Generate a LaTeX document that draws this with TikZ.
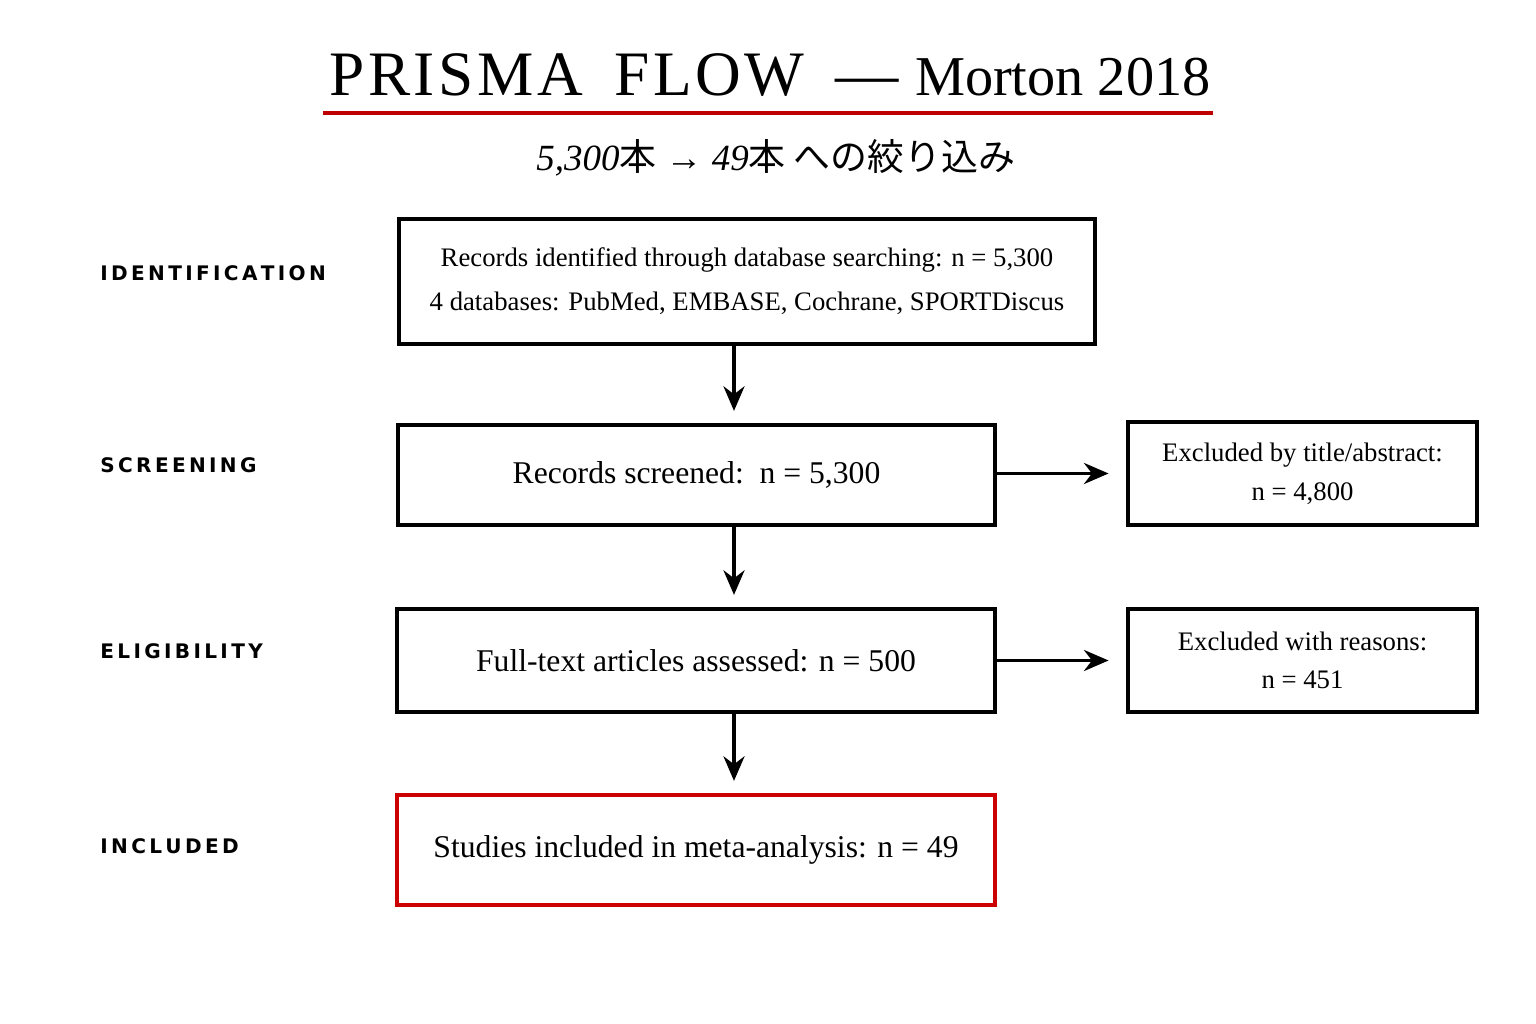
\documentclass[tikz,border=0pt]{standalone}
\usepackage{fontspec}
\setmainfont{Liberation Serif}
\setsansfont{DejaVu Sans}
\newfontfamily\cjk{Noto Sans CJK JP}
\usetikzlibrary{arrows.meta}
\tikzset{
  box/.style={draw,line width=1pt,align=center,inner sep=0pt,font=\fontsize{9}{15}\selectfont},
  stage/.style={anchor=west,font=\sffamily\bfseries\fontsize{5.7}{8}\selectfont},
  flow/.style={-{Stealth[length=7pt,width=6pt]},line width=0.9pt,shorten >=3.5pt}
}
\begin{document}
\begin{tikzpicture}[x=0.01cm,y=0.01cm]
\useasboundingbox[fill=white] (0,0) rectangle (1536,1024);
% Title
\node (title) at (770,949) {\fontsize{18}{22}\selectfont P\kern1ptR\kern1ptI\kern1ptS\kern1ptM\kern1ptA\ \ F\kern1ptL\kern1ptO\kern1ptW\ \ --- \fontsize{16}{20}\selectfont Morton 2018};
\draw[red!75!black,line width=1pt] (323,911) -- (1213,911);
\node (sub) at (776,866) {\fontsize{10.5}{12}\selectfont\itshape 5,300{\cjk 本} → 49{\cjk 本 への絞り込み}};

% Stages
\node[stage] (lid) at (88,751) {I\,D\,E\,N\,T\,I\,F\,I\,C\,A\,T\,I\,O\,N};
\node[stage] (lsc) at (88,559) {S\,C\,R\,E\,E\,N\,I\,N\,G};
\node[stage] (lel) at (88,373) {E\,L\,I\,G\,I\,B\,I\,L\,I\,T\,Y};
\node[stage] (lin) at (88,178) {I\,N\,C\,L\,U\,D\,E\,D};

% Boxes
\node[box,minimum width=6.96cm,minimum height=1.25cm,font=\fontsize{7.6}{12.5}\selectfont] (ident) at (747,742.5)
  {Records identified through database searching: n = 5,300\\4 databases: PubMed, EMBASE, Cochrane, SPORTDiscus};
\node[box,minimum width=5.97cm,minimum height=1cm] (screen) at (696.5,549) {Records screened:\ \ n = 5,300};
\node[box,minimum width=3.49cm,minimum height=1.03cm,font=\fontsize{7.6}{11}\selectfont] (excl1) at (1302.5,550.5) {Excluded by title/abstract:\\n = 4,800};
\node[box,minimum width=5.98cm,minimum height=1.03cm] (elig) at (696,363.5) {Full-text articles assessed: n = 500};
\node[box,minimum width=3.49cm,minimum height=1.03cm,font=\fontsize{7.6}{11}\selectfont] (excl2) at (1302.5,363.5) {Excluded with reasons:\\n = 451};
\node[box,draw=red!80!black,minimum width=5.98cm,minimum height=1.1cm] (incl) at (696,174) {Studies included in meta-analysis: n = 49};

% Arrows
\draw[flow] (ident.south -| 734,0) -- (screen.north -| 734,0);
\draw[flow] (screen.south -| 734,0) -- (elig.north -| 734,0);
\draw[flow] (elig.south -| 734,0) -- (incl.north -| 734,0);
\draw[flow,shorten >=5pt] (screen.east |- excl1) -- (excl1.west);
\draw[flow,shorten >=5pt] (elig.east) -- (excl2.west);
\end{tikzpicture}
\end{document}
